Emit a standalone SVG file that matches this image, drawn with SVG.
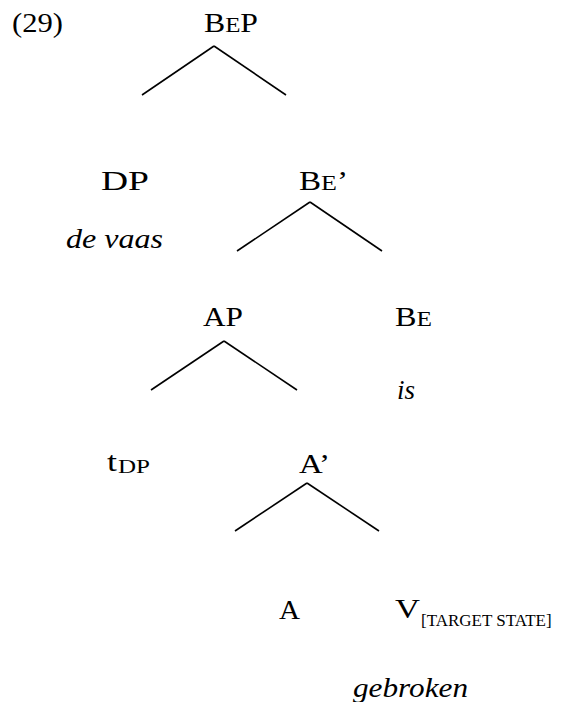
<svg xmlns="http://www.w3.org/2000/svg" width="561" height="702" viewBox="0 0 561 702">
<style>
text{font-family:"Liberation Serif","Times New Roman","DejaVu Serif",serif;font-size:28px;fill:#000}
.it{font-style:italic}
.sc{font-size:22px}
.sub{font-size:19px}
.sub2{font-size:17px}
line{stroke:#000;stroke-width:1.6;stroke-linecap:butt}
</style>
<rect width="561" height="702" fill="#fff"/>
<text id="label" x="12" y="32" textLength="51" lengthAdjust="spacingAndGlyphs">(29)</text>
<g id="BeP"><text x="204" y="32" textLength="54" lengthAdjust="spacingAndGlyphs">B<tspan class="sc">E</tspan>P</text></g>
<g id="DP"><text x="101" y="190" textLength="48" lengthAdjust="spacingAndGlyphs">DP</text></g>
<g id="de-vaas"><text class="it" x="66" y="248" textLength="97" lengthAdjust="spacingAndGlyphs">de vaas</text></g>
<g id="Bebar"><text x="299" y="190" textLength="49" lengthAdjust="spacingAndGlyphs">B<tspan class="sc">E</tspan>’</text></g>
<g id="AP"><text x="203" y="326" textLength="40" lengthAdjust="spacingAndGlyphs">AP</text></g>
<g id="Be"><text x="395" y="326" textLength="37" lengthAdjust="spacingAndGlyphs">B<tspan class="sc">E</tspan></text></g>
<g id="is"><text class="it" x="397" y="399" textLength="18" lengthAdjust="spacingAndGlyphs">is</text></g>
<g id="tDP"><text x="107" y="471" textLength="10" lengthAdjust="spacingAndGlyphs">t</text><text class="sub" x="118" y="473" textLength="32" lengthAdjust="spacingAndGlyphs">DP</text></g>
<g id="Abar"><text x="299" y="473" textLength="31" lengthAdjust="spacingAndGlyphs">A’</text></g>
<g id="A"><text x="279" y="619" textLength="21" lengthAdjust="spacingAndGlyphs">A</text></g>
<g id="V"><text x="395" y="618" textLength="25" lengthAdjust="spacingAndGlyphs">V</text><text class="sub2" x="421" y="626">[TARGET STATE]</text></g>
<g id="gebroken"><text class="it" x="353" y="697" textLength="115" lengthAdjust="spacingAndGlyphs">gebroken</text></g>
<g id="connectors">
<line x1="214" y1="46" x2="142" y2="95"/>
<line x1="214" y1="46" x2="286" y2="95"/>
<line x1="310" y1="202" x2="237" y2="251"/>
<line x1="310" y1="202" x2="382" y2="251"/>
<line x1="224" y1="341" x2="151" y2="390"/>
<line x1="224" y1="341" x2="297" y2="390"/>
<line x1="307" y1="483" x2="235" y2="531"/>
<line x1="307" y1="483" x2="379" y2="531"/>
</g>
</svg>
